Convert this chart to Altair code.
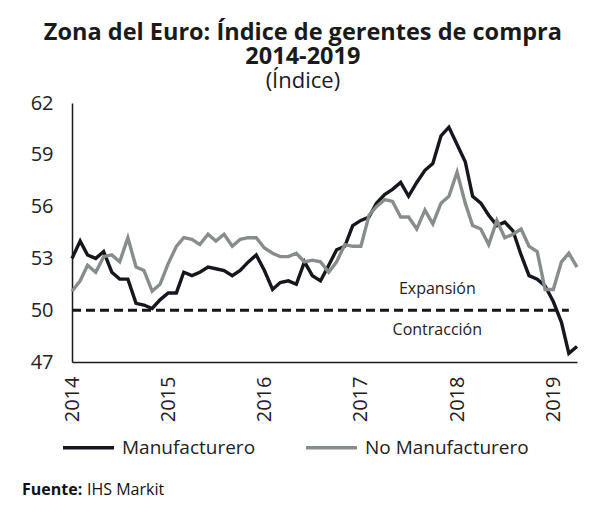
import altair as alt
import pandas as pd

# Monthly dates, Jan 2014 - Apr 2019
months = pd.date_range("2014-01-01", "2019-04-01", freq="MS").strftime("%Y-%m-%dT00:00:00").tolist()

manufacturero = [
    53.0, 54.0, 53.2, 53.0, 53.4, 52.2, 51.8, 51.8, 50.4, 50.3, 50.1, 50.6,
    51.0, 51.0, 52.2, 52.0, 52.2, 52.5, 52.4, 52.3, 52.0, 52.3, 52.8, 53.2,
    52.3, 51.2, 51.6, 51.7, 51.5, 52.8, 52.0, 51.7, 52.6, 53.5, 53.7, 54.9,
    55.2, 55.4, 56.2, 56.7, 57.0, 57.4, 56.6, 57.4, 58.1, 58.5, 60.1, 60.6,
    59.6, 58.6, 56.6, 56.2, 55.5, 54.9, 55.1, 54.6, 53.2, 52.0, 51.8, 51.4,
    50.5, 49.3, 47.5, 47.9,
]

no_manufacturero = [
    51.1, 51.7, 52.6, 52.2, 53.1, 53.2, 52.8, 54.2, 52.5, 52.3, 51.1, 51.5,
    52.7, 53.7, 54.2, 54.1, 53.8, 54.4, 54.0, 54.4, 53.7, 54.1, 54.2, 54.2,
    53.6, 53.3, 53.1, 53.1, 53.3, 52.8, 52.9, 52.8, 52.2, 52.8, 53.8, 53.7,
    53.7, 55.5, 56.0, 56.4, 56.3, 55.4, 55.4, 54.7, 55.8, 55.0, 56.2, 56.6,
    58.0, 56.2, 54.9, 54.7, 53.8, 55.2, 54.2, 54.4, 54.7, 53.7, 53.4, 51.2,
    51.2, 52.8, 53.3, 52.5,
]

series_names = ["Manufacturero", "No Manufacturero"]
series_colors = ["#16161f", "#878e8a"]
y_ticks = [47, 50, 53, 56, 59, 62]
year_ticks = [2014, 2015, 2016, 2017, 2018, 2019]

umbral = 50
umbral_desde = "2014-01-01T00:00:00"
umbral_hasta = "2019-03-01T00:00:00"

etiquetas = ["Expansión", "Contracción"]
etiqueta_fecha = ["2017-10-18T00:00:00", "2017-10-18T00:00:00"]
etiqueta_valor = [51.25, 48.85]

FONT = "Open Sans"

df = pd.DataFrame({
    "fecha": months * 2,
    "valor": manufacturero + no_manufacturero,
    "serie": [series_names[0]] * len(months) + [series_names[1]] * len(months),
})

x_scale = alt.Scale(domain=[alt.DateTime(year=2014, month=1, date=1),
                            alt.DateTime(year=2019, month=4, date=1)])
y_scale = alt.Scale(domain=[47, 62], nice=False, zero=False)

lines = alt.Chart(df).mark_line(strokeWidth=3.4).encode(
    x=alt.X("fecha:T", scale=x_scale, title=None,
            axis=alt.Axis(values=[alt.DateTime(year=y, month=1, date=1) for y in year_ticks],
                          format="%Y", labelAngle=-90, labelAlign="right",
                          labelBaseline="middle", labelPadding=14,
                          labelFontSize=20, labelFont=FONT, labelColor="#222222")),
    y=alt.Y("valor:Q", scale=y_scale, title=None,
            axis=alt.Axis(values=y_ticks, labelPadding=19,
                          labelFontSize=20, labelFont=FONT, labelColor="#222222")),
    color=alt.Color("serie:N",
                    scale=alt.Scale(domain=series_names, range=series_colors),
                    legend=alt.Legend(title=None, orient="none", direction="horizontal",
                                      legendX=-11, legendY=317,
                                      symbolType="stroke", symbolSize=2600,
                                      symbolStrokeWidth=3.5, labelFontSize=19,
                                      labelFont=FONT, labelColor="#222222",
                                      labelLimit=400,
                                      labelOffset=6, columnPadding=43)),
)

rule_df = pd.DataFrame({"y": [umbral], "x1": [umbral_desde], "x2": [umbral_hasta]})
rule = alt.Chart(rule_df).mark_rule(strokeWidth=3, strokeDash=[9, 5], color="#16161f").encode(
    x=alt.X("x1:T", scale=x_scale),
    x2="x2:T",
    y=alt.Y("y:Q", scale=y_scale),
)

lab_df = pd.DataFrame({"fecha": etiqueta_fecha, "valor": etiqueta_valor, "t": etiquetas})
labels = alt.Chart(lab_df).mark_text(fontSize=16, font=FONT, color="#222222").encode(
    x=alt.X("fecha:T", scale=x_scale),
    y=alt.Y("valor:Q", scale=y_scale),
    text="t:N",
)

fuente1 = alt.Chart(pd.DataFrame({"t": ["Fuente:"]})).mark_text(
    fontSize=16, font=FONT, fontWeight="bold", align="left", color="#111111"
).encode(x=alt.value(-50), y=alt.value(387), text="t:N")

fuente2 = alt.Chart(pd.DataFrame({"t": ["IHS Markit"]})).mark_text(
    fontSize=16, font=FONT, align="left", color="#111111"
).encode(x=alt.value(15), y=alt.value(387), text="t:N")

chart = alt.layer(rule, lines, labels, fuente1, fuente2).properties(
    width=505,
    height=259,
    title=alt.TitleParams(
        text=["Zona del Euro: Índice de gerentes de compra", "2014-2019"],
        subtitle="(Índice)",
        anchor="middle", frame="bounds",
        font=FONT, fontSize=23.5, fontWeight="bold", color="#1a1a1a", lineHeight=24,
        subtitleFont=FONT, subtitleFontSize=22, subtitleColor="#1a1a1a",
        subtitlePadding=3, offset=1,
    ),
    autosize=alt.AutoSizeParams(type="none"),
    padding={"left": 64, "top": 95, "right": 12, "bottom": 140},
    background="white",
).configure_view(stroke=None).configure_axis(
    grid=False, ticks=False, domainColor="#1a1a1a", domainWidth=1.5,
)

chart.save("out.html", embed_options={"renderer": "svg", "actions": False})
